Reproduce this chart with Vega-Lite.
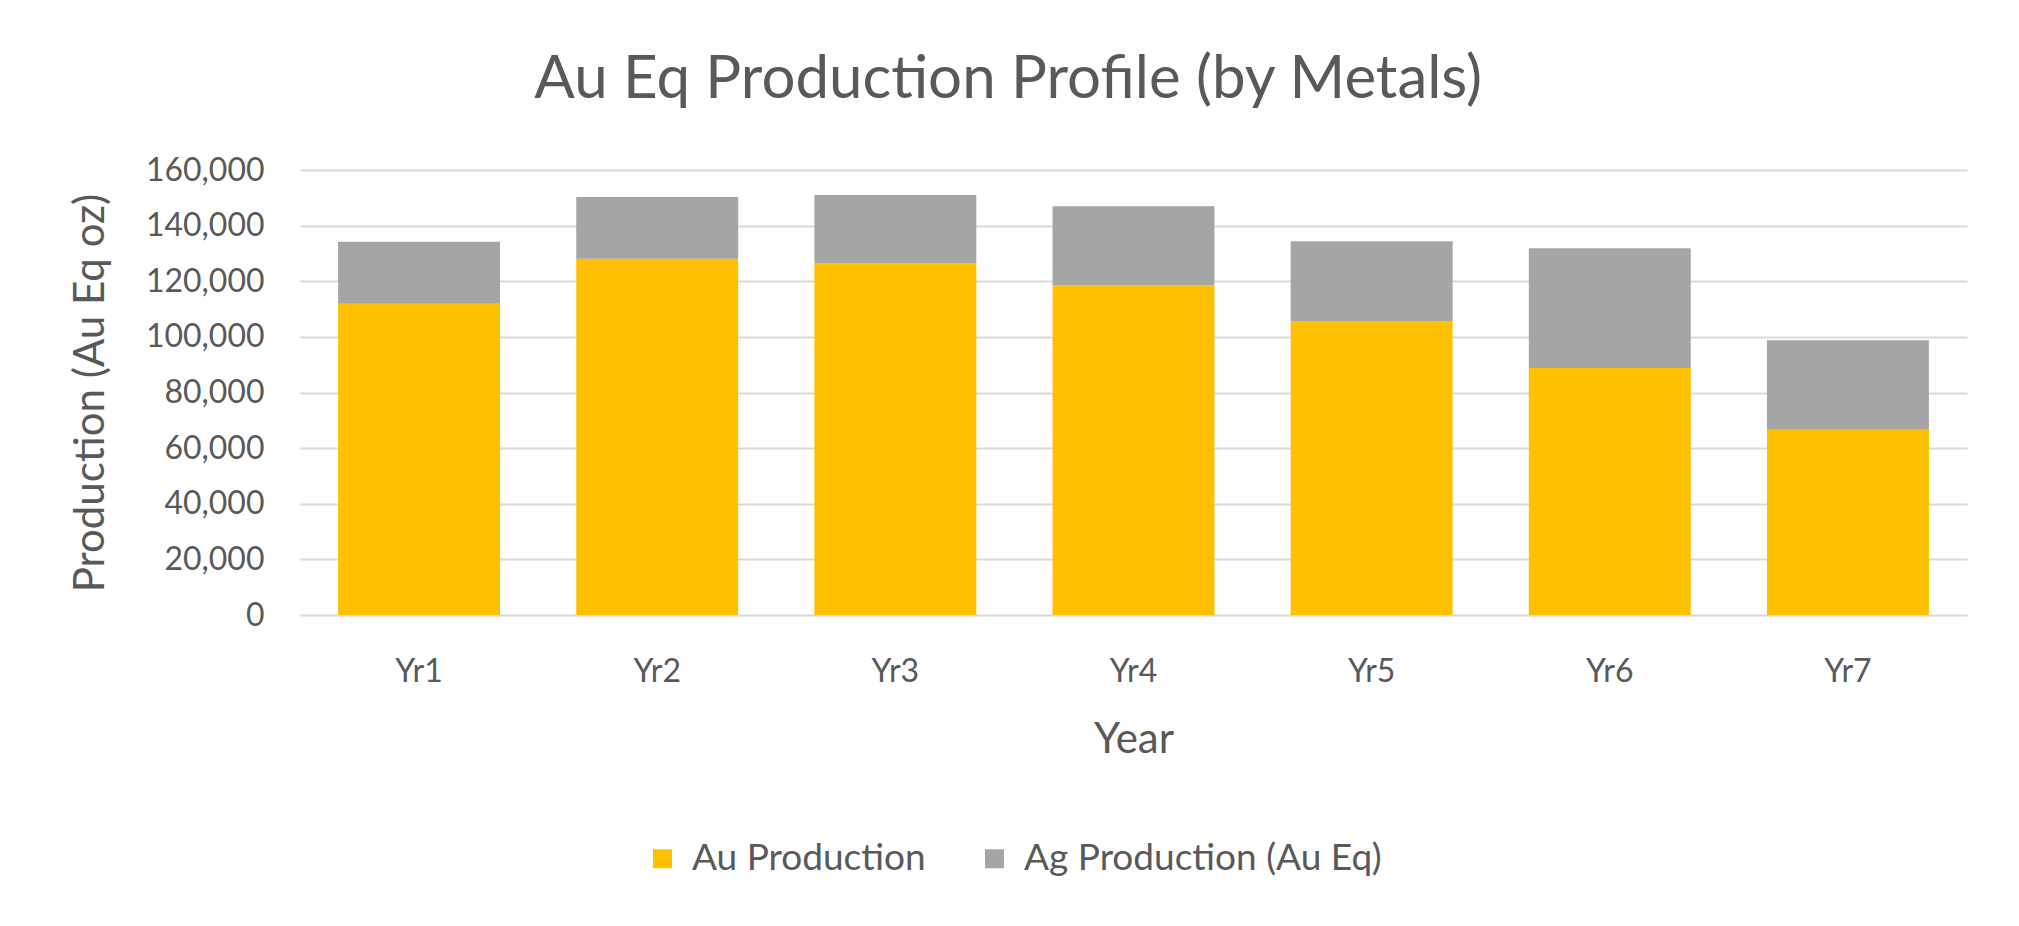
{
  "$schema": "https://vega.github.io/schema/vega-lite/v6.json",
  "width": 1667,
  "height": 445,
  "autosize": "none",
  "padding": {"left": 300, "top": 170, "right": 52, "bottom": 311},
  "background": "white",
  "config": {
    "view": {"stroke": null},
    "font": "Lato",
    "text": {"font": "Lato"}
  },
  "title": {
    "text": "Au Eq Production Profile (by Metals)",
    "font": "Lato",
    "fontSize": 60,
    "fontWeight": "normal",
    "color": "#595959",
    "anchor": "middle",
    "frame": "bounds",
    "baseline": "alphabetic",
    "offset": -4,
    "dx": -10
  },
  "data": {
    "values": [
      {"year": "Yr1", "metal": "Au Production", "value": 111900},
      {"year": "Yr1", "metal": "Ag Production (Au Eq)", "value": 22300},
      {"year": "Yr2", "metal": "Au Production", "value": 128100},
      {"year": "Yr2", "metal": "Ag Production (Au Eq)", "value": 22200},
      {"year": "Yr3", "metal": "Au Production", "value": 126400},
      {"year": "Yr3", "metal": "Ag Production (Au Eq)", "value": 24600},
      {"year": "Yr4", "metal": "Au Production", "value": 118600},
      {"year": "Yr4", "metal": "Ag Production (Au Eq)", "value": 28400},
      {"year": "Yr5", "metal": "Au Production", "value": 105500},
      {"year": "Yr5", "metal": "Ag Production (Au Eq)", "value": 28900},
      {"year": "Yr6", "metal": "Au Production", "value": 88800},
      {"year": "Yr6", "metal": "Ag Production (Au Eq)", "value": 43100},
      {"year": "Yr7", "metal": "Au Production", "value": 66600},
      {"year": "Yr7", "metal": "Ag Production (Au Eq)", "value": 32200}
    ]
  },
  "mark": {"type": "bar"},
  "encoding": {
    "x": {
      "field": "year",
      "type": "nominal",
      "scale": {"paddingInner": 0.32, "paddingOuter": 0.16},
      "axis": {
        "title": "Year",
        "labelAngle": 0,
        "ticks": false,
        "domain": false,
        "grid": false,
        "labelFont": "Lato",
        "labelFontSize": 32,
        "labelColor": "#595959",
        "labelPadding": 41,
        "titleFont": "Lato",
        "titleFontSize": 42,
        "titleFontWeight": "normal",
        "titleColor": "#595959",
        "titlePadding": 32
      }
    },
    "y": {
      "field": "value",
      "type": "quantitative",
      "stack": "zero",
      "scale": {"domain": [0, 160000], "nice": false},
      "axis": {
        "title": "Production (Au Eq oz)",
        "values": [0, 20000, 40000, 60000, 80000, 100000, 120000, 140000, 160000],
        "format": ",.0f",
        "ticks": false,
        "domain": false,
        "grid": true,
        "gridColor": "#D9D9D9",
        "gridWidth": 2,
        "labelFont": "Lato",
        "labelFontSize": 32,
        "labelColor": "#595959",
        "labelPadding": 36,
        "titleFont": "Lato",
        "titleFontSize": 42,
        "titleFontWeight": "normal",
        "titleColor": "#595959",
        "titlePadding": 33
      }
    },
    "color": {
      "field": "metal",
      "type": "nominal",
      "scale": {
        "domain": ["Au Production", "Ag Production (Au Eq)"],
        "range": ["#FFC000", "#A5A5A5"]
      },
      "legend": {
        "title": null,
        "orient": "none",
        "direction": "horizontal",
        "legendX": 344,
        "legendY": 670,
        "symbolType": "square",
        "symbolSize": 361,
        "symbolStrokeWidth": 0,
        "labelFont": "Lato",
        "labelFontSize": 37,
        "labelColor": "#595959",
        "labelLimit": 0,
        "labelOffset": 11,
        "columnPadding": 50
      }
    },
    "order": {"field": "metal", "sort": "descending"}
  }
}
